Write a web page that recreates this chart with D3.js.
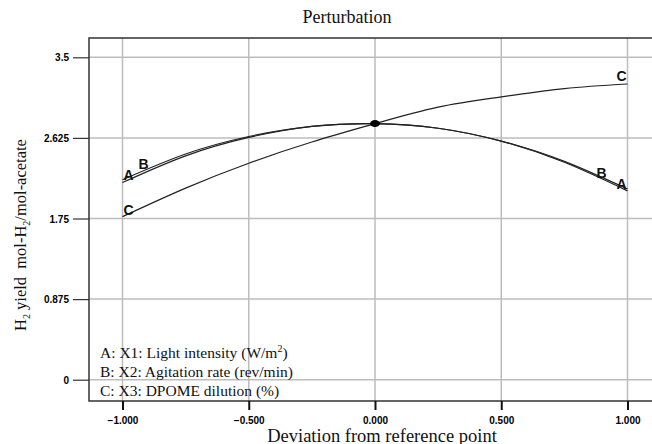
<!DOCTYPE html>
<meta charset="utf-8">
<style>
    body { margin: 0; background: #fff; }
    .grid line { stroke: #bdbdbd; stroke-width: 1.5px; }
    .frame { stroke: #333; stroke-width: 1.5px; fill: none; }
    .tick-lbl { font-family: "Liberation Sans", Arial, sans-serif; font-weight: bold; font-size: 10px; fill: #000; }
    .curve { fill: none; stroke: #222; stroke-width: 1.2px; }
    .serif { font-family: "Liberation Serif", "Times New Roman", serif; fill: #111; white-space: pre; }
    .clbl { font-family: "Liberation Sans", Arial, sans-serif; font-weight: bold; font-size: 14px; fill: #111; }
</style>
<body>
<svg width="652" height="444"></svg>
<script src="https://d3js.org/d3.v7.min.js"></script>
<script>

    // deviation from reference point
    var devs = [-1, -0.75, -0.5, -0.25, 0, 0.25, 0.5, 0.75, 1];

    // H2 yield
    var yieldA = [2.14, 2.43, 2.63, 2.75, 2.78, 2.73, 2.59, 2.36, 2.05];
    var yieldB = [2.17, 2.45, 2.64, 2.75, 2.78, 2.73, 2.59, 2.37, 2.07];
    var yieldC = [1.77, 2.08, 2.35, 2.58, 2.78, 2.96, 3.07, 3.16, 3.21];

    var xTicks = [-1, -0.5, 0, 0.5, 1];
    var yTicks = [0, 0.875, 1.75, 2.625, 3.5];
    var yTickLabels = ["0", "0.875", "1.75", "2.625", "3.5"];

    var legendLines = [
        ["A: X1: Light intensity (W/m", "2", ")"],
        ["B: X2: Agitation rate (rev/min)"],
        ["C: X3: DPOME dilution (%)"]
    ];

    var svg = d3.select("svg"),
        frameLeft = 89, frameTop = 38, frameBottom = 401, frameRight = 652;

    var x = d3.scaleLinear().domain([-1, 1]).range([122.5, 627.5]),
        y = d3.scaleLinear().domain([0, 3.5]).range([379.7, 57.3]);

    // grid lines
    var grid = svg.append("g").attr("class", "grid");
    grid.selectAll(".gx").data(xTicks).enter().append("line")
        .attr("x1", function (d) { return x(d); })
        .attr("x2", function (d) { return x(d); })
        .attr("y1", frameTop).attr("y2", frameBottom);
    grid.selectAll(".gy").data(yTicks).enter().append("line")
        .attr("x1", frameLeft).attr("x2", frameRight)
        .attr("y1", function (d) { return y(d); })
        .attr("y2", function (d) { return y(d); });

    // frame (left, top, bottom)
    svg.append("path").attr("class", "frame")
        .attr("d", "M" + frameRight + "," + frameTop + "H" + frameLeft + "V" + frameBottom + "H" + frameRight);

    // y axis ticks + labels
    var yAxis = d3.axisLeft(y).tickValues(yTicks).tickSize(16)
        .tickFormat(function (d, i) { return yTickLabels[i]; });
    var gy = svg.append("g").attr("transform", "translate(" + frameLeft + ",0)").call(yAxis);
    gy.select(".domain").remove();
    gy.selectAll(".tick line").attr("stroke", "#333").attr("stroke-width", 1.2);
    gy.selectAll(".tick text").attr("class", "tick-lbl").attr("x", -20).attr("dy", "0.35em");

    // x axis ticks + labels
    var xAxis = d3.axisBottom(x).tickValues(xTicks).tickSize(9).tickFormat(d3.format(".3f"));
    var gx = svg.append("g").attr("transform", "translate(0," + frameBottom + ")").call(xAxis);
    gx.select(".domain").remove();
    gx.selectAll(".tick line").attr("stroke", "#111").attr("stroke-width", 2);
    gx.selectAll(".tick text").attr("class", "tick-lbl").attr("y", 16).attr("dy", "0.71em");

    // curves
    var line = d3.line()
        .x(function (d) { return x(d[0]); })
        .y(function (d) { return y(d[1]); })
        .curve(d3.curveNatural);

    [yieldA, yieldB, yieldC].forEach(function (vals) {
        svg.append("path")
            .datum(devs.map(function (d, i) { return [d, vals[i]]; }))
            .attr("class", "curve")
            .attr("d", line);
    });

    // reference point
    svg.append("ellipse")
        .attr("cx", x(0)).attr("cy", y(yieldC[4]))
        .attr("rx", 5).attr("ry", 3.5)
        .attr("fill", "#000");

    // curve labels
    var last = devs.length - 1;
    var curveLabels = [
        {t: "A", x: x(-1) + 6, y: y(yieldA[0]) - 3},
        {t: "B", x: x(-1) + 21, y: y(yieldB[0]) - 11},
        {t: "C", x: x(-1) + 6, y: y(yieldC[0]) - 2},
        {t: "C", x: x(1) - 6, y: y(yieldC[last]) - 3},
        {t: "B", x: x(1) - 26, y: y(yieldB[last]) - 11},
        {t: "A", x: x(1) - 6, y: y(yieldA[last]) - 2}
    ];
    svg.selectAll(".clbl").data(curveLabels).enter().append("text")
        .attr("class", "clbl")
        .attr("x", function (d) { return d.x; })
        .attr("y", function (d) { return d.y; })
        .attr("text-anchor", "middle")
        .text(function (d) { return d.t; });

    // legend
    var leg = svg.append("g");
    legendLines.forEach(function (parts, i) {
        var t = leg.append("text").attr("class", "serif")
            .attr("x", 100).attr("y", 358 + i * 18.8)
            .style("font-size", "15.5px");
        t.append("tspan").text(parts[0]);
        if (parts.length > 1) {
            t.append("tspan").attr("dy", -6).style("font-size", "10px").text(parts[1]);
            t.append("tspan").attr("dy", 6).text(parts[2]);
        }
    });

    // title
    svg.append("text").attr("class", "serif")
        .attr("x", 347).attr("y", 23)
        .attr("text-anchor", "middle")
        .style("font-size", "18px")
        .text("Perturbation");

    // x title
    svg.append("text").attr("class", "serif")
        .attr("x", 382).attr("y", 442)
        .attr("text-anchor", "middle")
        .style("font-size", "18.5px")
        .text("Deviation from reference point");

    // y title
    var yt = svg.append("text").attr("class", "serif")
        .attr("transform", "translate(26,331) rotate(-90)")
        .attr("text-anchor", "start")
        .style("font-size", "16.5px");
    yt.append("tspan").text("H");
    yt.append("tspan").attr("dy", 4).style("font-size", "10px").text("2");
    yt.append("tspan").attr("dy", -4).text(" yield  mol-H");
    yt.append("tspan").attr("dy", 4).style("font-size", "10px").text("2");
    yt.append("tspan").attr("dy", -4).text("/mol-acetate");

</script>
</body>
